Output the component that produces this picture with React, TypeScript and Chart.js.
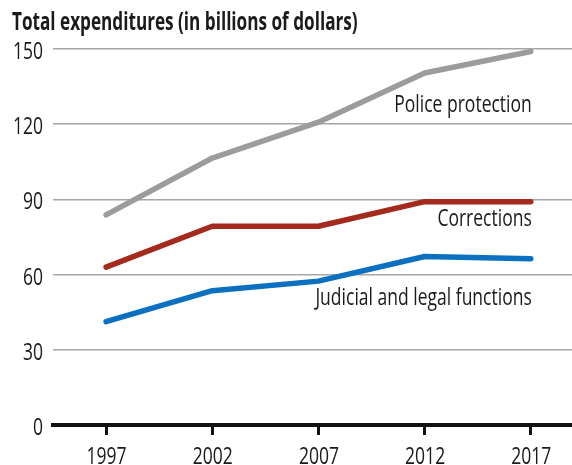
import React, { useEffect, useRef } from "react";
import { Chart, registerables } from "chart.js";

Chart.register(...registerables);

const years = [1997, 2002, 2007, 2012, 2017];
const police = [83.8, 106.5, 120.8, 140.4, 149.0];
const corrections = [63.0, 79.3, 79.3, 89.1, 89.1];
const judicial = [41.2, 53.6, 57.4, 67.2, 66.3];
const seriesNames = ["Police protection", "Corrections", "Judicial and legal functions"];
const labelValues = [125, 79.2, 47.9];
const yTicks = [0, 30, 60, 90, 120, 150];
const titleText = "Total expenditures (in billions of dollars)";

const FONT = "'Open Sans', 'Noto Sans', sans-serif";
const COLORS = ["#9b9c9e", "#a42a1e", "#0b70c0"];
const TEXT = "#1a1a1a";
const FS = 24.5;
const SX = 0.715;
const SX_BOLD = 0.7;

function drawText(ctx: CanvasRenderingContext2D, text: string, x: number, y: number, align: CanvasTextAlign, sx: number) {
  ctx.save();
  ctx.translate(x, y);
  ctx.scale(sx, 1);
  ctx.textAlign = align;
  ctx.textBaseline = "alphabetic";
  ctx.fillText(text, 0, 0);
  ctx.restore();
}

export default function App() {
  const ref = useRef<HTMLCanvasElement | null>(null);

  useEffect(() => {
    if (!ref.current) return;
    const allSeries = [police, corrections, judicial];

    const overlay = {
      id: "overlay",
      afterDraw(chart: any) {
        const ctx = chart.ctx as CanvasRenderingContext2D;
        const xs = chart.scales.x;
        const ys = chart.scales.y;
        ctx.save();
        ctx.fillStyle = TEXT;
        ctx.font = `bold ${FS}px ${FONT}`;
        drawText(ctx, titleText, 12, 29.5, "left", SX_BOLD);
        ctx.font = `${FS}px ${FONT}`;
        yTicks.forEach((v) => {
          drawText(ctx, String(v), ys.left + 43, ys.getPixelForValue(v) + 10, "right", SX);
        });
        years.forEach((v) => {
          drawText(ctx, String(v), xs.getPixelForValue(v) + 0.5, ys.bottom + 39, "center", SX);
        });
        seriesNames.forEach((name, i) => {
          const x = xs.getPixelForValue(years[years.length - 1]) + 1;
          const y = ys.getPixelForValue(labelValues[i]);
          drawText(ctx, name, x, y, "right", SX);
        });
        ctx.restore();
      },
    };

    const chart = new Chart(ref.current, {
      type: "line",
      data: {
        datasets: allSeries.map((s, i) => ({
          label: seriesNames[i],
          data: s.map((v, j) => ({ x: years[j], y: v })),
          borderColor: COLORS[i],
          backgroundColor: COLORS[i],
          borderWidth: 5.5,
          borderCapStyle: "round",
          borderJoinStyle: "round",
          pointRadius: 0,
          tension: 0,
          fill: false,
        })),
      },
      options: {
        animation: false,
        responsive: false,
        maintainAspectRatio: false,
        layout: { padding: { top: 49, left: 0, right: 0, bottom: 0 } },
        plugins: {
          legend: { display: false },
          tooltip: { enabled: false },
          title: { display: false },
        },
        scales: {
          x: {
            type: "linear",
            min: 1994.5,
            max: 2018.94,
            afterBuildTicks: (scale: any) => {
              scale.ticks = years.map((v) => ({ value: v }));
            },
            afterFit: (scale: any) => {
              scale.height = 40;
            },
            grid: {
              display: true,
              drawOnChartArea: false,
              drawTicks: true,
              tickLength: 10,
              color: "#111",
              lineWidth: 3,
            },
            border: { display: true, color: "#111", width: 4 },
            ticks: {
              color: "rgba(0,0,0,0)",
              font: { family: FONT, size: 16 },
              padding: 4,
              maxRotation: 0,
              autoSkip: false,
              callback: (v: any) => String(v),
            },
          },
          y: {
            type: "linear",
            min: 0,
            max: 150,
            afterBuildTicks: (scale: any) => {
              scale.ticks = yTicks.map((v) => ({ value: v }));
            },
            afterFit: (scale: any) => {
              scale.width = 53;
            },
            grid: {
              drawTicks: false,
              color: (c: any) => (c.tick && c.tick.value === 0 ? "rgba(0,0,0,0)" : "#a6a6a6"),
              lineWidth: 1.5,
            },
            border: { display: false },
            ticks: {
              color: "rgba(0,0,0,0)",
              font: { family: FONT, size: 16 },
              padding: 10,
            },
          },
        },
      } as any,
      plugins: [overlay],
    });
    return () => chart.destroy();
  }, []);

  return (
    <div style={{ position: "fixed", left: 0, top: 0, width: 572, height: 465, background: "#fff" }}>
      <canvas ref={ref} width={572} height={465} style={{ width: 572, height: 465, display: "block" }} />
    </div>
  );
}
